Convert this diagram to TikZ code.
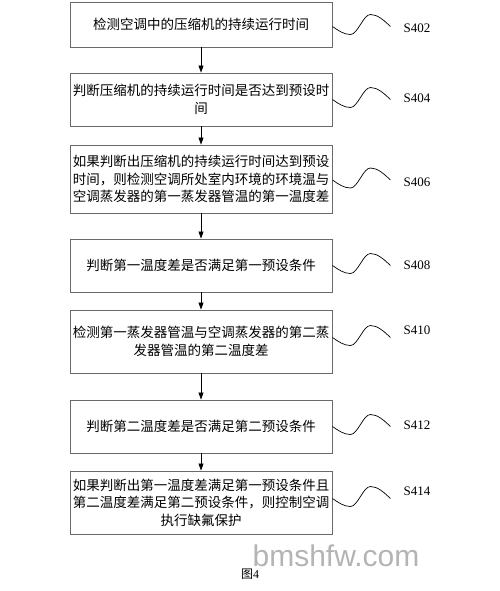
\documentclass[tikz,border=0pt]{standalone}
\usepackage{fontspec}
\setmainfont{Liberation Serif}
\newfontfamily\cjk{Noto Sans CJK SC}
\newfontfamily\wmfont{Liberation Sans}
\usetikzlibrary{arrows.meta}
\definecolor{edge}{HTML}{6A6A6A}
\definecolor{wmark}{HTML}{B4B4B4}
\tikzset{
  stepbox/.style={rectangle, draw=edge, line width=0.9pt, minimum width=262pt, inner sep=0pt, align=center, font=\cjk\fontsize{13.5}{17.5}\selectfont},
  flow/.style={-{Triangle[length=7pt,width=5pt]}, line width=0.7pt},
  wavy/.style={line width=0.7pt},
  tag/.style={font=\fontsize{13}{15}\selectfont},
}
% leader from a box to its step label
\newcommand{\wave}[2]{\draw[wavy] ([yshift=#2]#1.east) sin ++(18,8) cos ++(10,-10) sin ++(10,-10) cos ++(20,12);}

\begin{document}
\begin{tikzpicture}[x=1pt, y=-1pt]
  \useasboundingbox (0,0) rectangle (500,591);
  \node[stepbox, minimum height=45pt] (s402) at (201,24.5) {检测空调中的压缩机的持续运行时间};
  \node[stepbox, minimum height=53pt] (s404) at (201,99.5) {判断压缩机的持续运行时间是否达到预设时\\间};
  \node[stepbox, minimum height=68pt] (s406) at (201,179) {如果判断出压缩机的持续运行时间达到预设\\时间，则检测空调所处室内环境的环境温与\\空调蒸发器的第一蒸发器管温的第一温度差};
  \node[stepbox, minimum height=53pt] (s408) at (201,265.5) {判断第一温度差是否满足第一预设条件};
  \node[stepbox, minimum height=63pt] (s410) at (201,341.5) {检测第一蒸发器管温与空调蒸发器的第二蒸\\发器管温的第二温度差};
  \node[stepbox, minimum height=53pt] (s412) at (201,426.5) {判断第二温度差是否满足第二预设条件};
  \node[stepbox, minimum height=63pt] (s414) at (201,502.5) {如果判断出第一温度差满足第一预设条件且\\第二温度差满足第二预设条件，则控制空调\\执行缺氟保护};

  \draw[flow] (s402) -- (s404);
  \draw[flow] (s404) -- (s406);
  \draw[flow] (s406) -- (s408);
  \draw[flow] (s408) -- (s410);
  \draw[flow] (s410) -- (s412);
  \draw[flow] (s412) -- (s414);

  \wave{s402}{-2pt}
  \wave{s404}{0pt}
  \wave{s406}{-1pt}
  \wave{s408}{0pt}
  \wave{s410}{4pt}
  \wave{s412}{0pt}
  \wave{s414}{4pt}

  \node[tag] (l402) at (417,28) {S402};
  \node[tag] (l404) at (417,98) {S404};
  \node[tag] (l406) at (417,182) {S406};
  \node[tag] (l408) at (417,265) {S408};
  \node[tag] (l410) at (417,330) {S410};
  \node[tag] (l412) at (417,425) {S412};
  \node[tag] (l414) at (417,491) {S414};

  \node[font=\wmfont\fontsize{30}{30}\selectfont, text=wmark, anchor=base, inner sep=0pt] (wm) at (336,566) {bmshfw.com};
  \node[font=\fontsize{12}{14}\selectfont, inner sep=0pt] (cap) at (250,574) {{\cjk 图}4};
\end{tikzpicture}
\end{document}
